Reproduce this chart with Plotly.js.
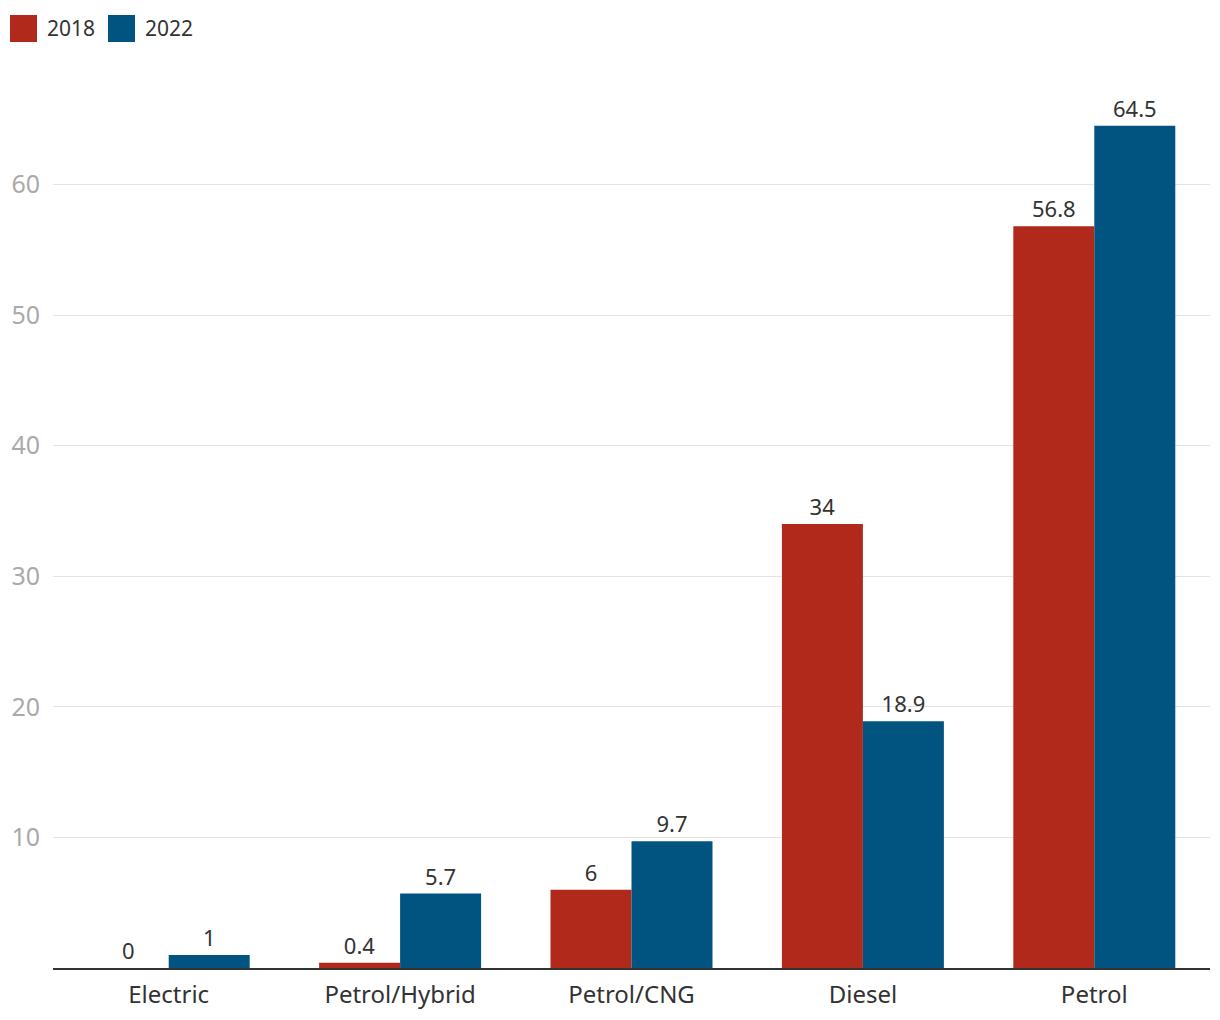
<!DOCTYPE html>
<html>
<head>
<meta charset="utf-8">
<script src="https://cdn.plot.ly/plotly-3.0.1.min.js"></script>
<style>html,body{margin:0;padding:0;background:#fff;}#chart{width:1220px;height:1020px;}</style>
</head>
<body>
<div id="chart"></div>
<script>
const categories = ["Electric", "Petrol/Hybrid", "Petrol/CNG", "Diesel", "Petrol"];
const values2018 = [0, 0.4, 6, 34, 56.8];
const values2022 = [1, 5.7, 9.7, 18.9, 64.5];
const seriesNames = ["2018", "2022"];
const yTicks = [10, 20, 30, 40, 50, 60];

const FONT = "Noto Sans, DejaVu Sans, sans-serif";
const colors = ["#B0291B", "#00547F"];

const W = 1220, H = 1020;
const M = {l: 53, r: 10, t: 80, b: 52};
const plotW = W - M.l - M.r, plotH = H - M.t - M.b;
const px2x = px => (px - M.l) / plotW;
const px2y = py => (H - M.b - py) / plotH;

const traces = [values2018, values2022].map((vals, i) => ({
  type: "bar",
  name: seriesNames[i],
  x: categories,
  y: vals,
  marker: {color: colors[i], line: {width: 0}},
  text: vals.map(v => String(v)),
  textposition: "outside",
  textfont: {family: FONT, size: 22, color: "#333"},
  cliponaxis: false,
  showlegend: false,
  hoverinfo: "skip"
}));

// custom legend (large square swatches)
const legendX = [10, 108];
const shapes = seriesNames.map((n, i) => ({
  type: "rect", xref: "paper", yref: "paper",
  x0: px2x(legendX[i]), x1: px2x(legendX[i] + 27),
  y0: px2y(42), y1: px2y(15),
  fillcolor: colors[i], line: {width: 0}
}));
const annotations = seriesNames.map((n, i) => ({
  text: n, xref: "paper", yref: "paper",
  x: px2x(legendX[i] + 35), y: px2y(28.5),
  xanchor: "left", yanchor: "middle", showarrow: false,
  font: {family: FONT, size: 21, color: "#333"}
}));

const layout = {
  width: W,
  height: H,
  margin: M,
  paper_bgcolor: "#fff",
  plot_bgcolor: "#fff",
  font: {family: FONT, color: "#333"},
  barmode: "group",
  bargap: 0.3,
  bargroupgap: 0,
  showlegend: false,
  shapes: shapes,
  annotations: annotations,
  xaxis: {
    showline: true,
    linecolor: "#333",
    linewidth: 2,
    ticks: "",
    tickfont: {family: FONT, size: 24, color: "#333"},
    ticklabelstandoff: 4,
    showgrid: false,
    fixedrange: true
  },
  yaxis: {
    range: [0, 68],
    tickvals: yTicks,
    ticktext: yTicks.map(String),
    tickfont: {family: FONT, size: 25, color: "#aaa"},
    showgrid: true,
    gridcolor: "#e3e3e3",
    gridwidth: 1,
    zeroline: false,
    showline: false,
    ticks: "",
    ticklabelstandoff: 12,
    automargin: false,
    fixedrange: true
  }
};

Plotly.newPlot("chart", traces, layout, {displayModeBar: false, staticPlot: true});
</script>
</body>
</html>
